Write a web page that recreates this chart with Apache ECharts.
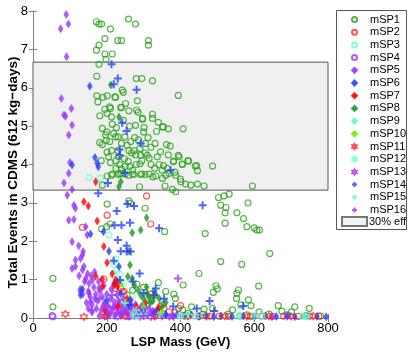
<!DOCTYPE html>
<html>
<head>
<meta charset="utf-8">
<script src="https://cdn.jsdelivr.net/npm/echarts@6/dist/echarts.min.js"></script>
<style>
  html, body { margin: 0; padding: 0; background: #fff; }
  #chart { width: 409px; height: 354px; }
</style>
</head>
<body>
<div id="chart"></div>
<script>
// axis ticks and the 30% efficiency band
const xTicks = [0, 200, 400, 600, 800];
const yTicks = [0, 1, 2, 3, 4, 5, 6, 7, 8];
const bandLow = 3.333;
const bandHigh = 6.667;

// [LSP mass (GeV), total events]
const mSP1 = [
  [172,7.72],[179,7.66],[186,7.66],[210,7.53],[259,7.79],[278,7.66],[195,7.28],[230,7.23],[240,7.23],[313,7.23],
  [313,7.11],[179,7.11],[172,6.98],[195,6.88],[215,6.88],[198,6.74],[179,6.61],
  [173,6.30],[280,6.24],[295,6.24],[324,6.18],[242,5.94],[245,5.88],[394,5.80],[173,5.79],[190,5.75],[201,5.79],
  [224,5.75],[176,5.63],[251,5.59],[240,5.49],[195,5.44],[210,5.46],[281,5.42],[201,5.33],[213,5.24],[181,5.27],
  [324,5.31],[324,5.20],[297,5.20],[351,4.98],[367,4.93],[407,4.93],[278,5.02],[301,4.96],[226,4.96],[335,4.86],
  [188,4.94],[200,4.85],[219,4.81],[224,4.72],[231,4.72],[249,4.72],[197,4.77],[276,4.70],[286,4.64],[199,4.63],
  [208,4.60],[181,4.57],[188,4.52],[331,4.55],[362,4.52],[372,4.48],[213,4.36],[260,4.36],[274,4.36],[230,4.36],
  [201,4.32],[268,4.30],[278,4.25],[304,4.30],[367,4.25],[394,4.24],
  [222,5.76],[283,5.66],[208,5.50],[238,5.48],[260,5.40],[285,5.36],[297,5.18],[340,5.10],[353,4.98],
  [290,4.42],[292,4.24],[310,4.24],[315,4.16],[337,4.20],[346,4.33],[381,4.09],[396,4.20],[420,4.10],[405,4.00],
  [440,3.96],[487,3.96],[446,3.84],[360,3.72],[369,3.77],[387,3.72],[401,3.55],[414,3.49],[428,3.46],[446,3.49],
  [464,3.44],[210,4.05],[235,4.00],[250,3.95],[262,3.95],[280,4.00],[290,4.02],[295,4.10],[342,4.00],[354,3.97],
  [364,3.90],[381,4.07],[405,4.01],[422,4.09],[444,3.97],[215,3.75],[235,3.75],[250,3.75],[270,3.75],[295,3.75],
  [315,3.75],[325,3.68],[385,3.80],[400,3.62],[188,3.46],[201,3.70],[213,3.72],[231,3.74],[240,3.77],[260,3.72],
  [274,3.74],[292,3.74],[304,3.74],[333,3.70],[351,3.64],[358,3.44],[378,3.35],[387,3.29],[289,3.42],
  [215,5.05],[245,5.15],[262,5.00],[240,4.55],[255,4.50],[265,4.60],[232,4.20],[248,4.15],[258,4.08],[225,4.10],
  [320,4.45],[305,4.55],[312,4.70],[300,4.85],[320,4.00],[330,3.90],[350,3.85],[270,3.85],[240,3.88],[225,3.90],
  [205,4.20],[185,4.10],
  [201,2.97],[260,3.05],[265,2.99],[304,2.86],[357,2.25],[186,2.32],[209,2.45],[200,2.38],[54,1.03],[54,0.29],
  [340,0.92],[360,0.69],[595,3.44],[503,3.14],[518,3.18],[532,3.23],[583,3.00],[509,2.94],[523,2.88],[553,2.74],
  [521,2.74],[571,2.59],[521,2.47],[580,2.38],[600,2.35],[607,2.29],[614,2.29],[467,2.20],[642,1.68],[509,1.47],
  [566,1.40],[450,1.16],[407,0.86],[496,0.84],[500,0.76],[489,0.67],[557,0.73],[553,0.64],[612,0.83],[386,0.51],
  [584,0.47],[591,0.32],[430,0.29],[665,0.32],[675,0.18],[710,0.29],[701,0.16],[749,0.25],[613,0.16],[406,0.21],
  [464,0.23],[487,0.25],[541,0.21],[564,0.34],[552,0.51],
  [282,0.88],[300,0.80],[270,0.72],[382,0.62],[320,0.45],[350,0.35],[395,0.25],[420,0.12],[460,0.10],[530,0.10],
  [580,0.08],[640,0.10],[690,0.08],[740,0.06],[780,0.05],[255,0.60],[240,0.40]
];
const mSP2 = [
  [308,3.18],[201,2.68],[134,2.36],[319,2.45],[192,1.01],[238,0.77],[247,0.69],[224,0.77],[242,0.69],[297,0.29],
  [355,0.25],[369,0.16],[265,0.16],[218,0.20],[250,0.35],[318,0.62],[345,0.30],[385,0.15],[400,0.32],[420,0.05],
  [450,0.04],[480,0.05],[505,0.05],[530,0.04],[560,0.05],[590,0.04],[620,0.05],[650,0.04],[680,0.05],[720,0.04],
  [750,0.05],[775,0.05]
];
const mSP3 = [
  [152,3.66],[183,3.64],[206,2.16],[224,1.53],[219,1.40],[228,1.25],[234,1.15],[218,1.14],[245,0.90],[268,0.55],
  [300,0.35],[420,0.05],[560,0.05],[730,0.04]
];
const mSP4 = [[54,0.03],[52,0.06],[200,0.05],[260,0.03]];
const mSP5 = [
  [90,7.91],[75,7.54],[96,7.66],[91,6.81],[77,5.72],[84,5.29],[88,5.26],[104,5.46],[106,5.03],[97,4.77],
  [100,4.05],[97,3.77],[84,3.52],[106,3.35],[93,3.20],[111,2.94],[115,2.86],[97,2.55],[111,2.57],[143,2.38],
  [147,2.16],[106,1.99],[124,1.88],[115,1.51],[129,1.55],[134,1.64],[136,1.73],[106,1.29],[115,1.34],[134,1.25],
  [138,1.34],[143,1.03],[152,0.90],[161,0.99],[129,0.69],[156,0.42],[152,0.64],[179,0.77],
  [128,0.75],[135,0.62],[150,0.70],[155,0.55],[165,0.80],[170,0.62],[175,0.45],[182,0.70],[188,0.55],[195,0.40],
  [200,0.62],[205,0.30],[210,0.50],[215,0.20],[220,0.42],[225,0.30],[230,0.15],[235,0.35],[240,0.22],[245,0.10],
  [250,0.28],[255,0.15],[260,0.05],[265,0.25],[270,0.12],[275,0.05],[280,0.20],[285,0.10],[290,0.03],[300,0.15],
  [310,0.08],[320,0.12],[330,0.05],[340,0.10],[350,0.04],[360,0.08],[370,0.03],[380,0.06],[145,0.40],[160,0.35],
  [172,0.25],[185,0.20],[198,0.15],[208,0.08],[222,0.05],[238,0.06],[160,0.15],[150,0.25],[180,0.05],[195,0.05],
  [140,0.95],[158,1.10],[167,1.20],[148,1.15],[125,1.10],[178,0.95],[192,0.85],[212,0.75],[228,0.60],[245,0.50],
  [262,0.45],[278,0.35],[295,0.30],[315,0.25],[380,0.03],[648,0.03],
  [205,0.12],[218,0.28],[232,0.45],[252,0.18],[268,0.32],[288,0.20],[305,0.28],[325,0.18],[190,0.32],[168,0.50]
];
const mSP6 = [
  [154,6.04],[168,4.18],[174,4.03],[177,3.94],[106,3.99],[191,2.25],[156,2.19],[206,1.74],[233,1.34],[129,0.60],
  [134,0.75],[238,0.64],[265,0.47],[337,0.21],[200,0.45],[220,0.90],[260,0.35],[300,0.20],[330,0.15],[360,0.10],
  [390,0.08],[410,0.05],[430,0.08],[450,0.04],[470,0.06],[490,0.03],[510,0.05],[540,0.04],[570,0.05],[600,0.03],
  [630,0.05],[660,0.04],[690,0.05],[710,0.03],[740,0.05],[770,0.04],[795,0.03]
];
const mSP7 = [
  [170,3.55],[138,3.03],[150,2.92],[174,2.53],[192,1.86],[201,1.44],[224,0.99],[220,0.86],[229,0.82],[188,0.82],
  [170,1.09],[188,1.01],[229,0.95],[215,1.15],[255,0.50],[280,0.30],[305,0.40],[230,0.30],[195,0.20],[340,0.25]
];
const mSP8 = [
  [211,6.07],[233,5.24],[233,3.42],[308,2.61],[292,2.29],[269,2.22],[260,1.74],[263,1.38],[257,1.08],[269,1.03],
  [308,0.80],[328,0.69],[342,0.51],[292,0.60],[300,0.50],[315,0.55],[325,0.45],[333,0.60],[318,0.40],[285,0.72],
  [350,0.30],[360,0.40],[310,0.62],[275,0.85],[238,3.55]
];
const mSP9 = [[270,0.10],[340,0.08],[460,0.05],[560,0.06],[740,0.05]];
const mSP10 = [[240,0.90],[300,0.30],[350,0.15]];
const mSP11 = [
  [88,0.10],[138,0.03],[195,0.05],[250,0.05],[330,0.04],[420,0.05],[470,0.04],[520,0.05],[580,0.04],[640,0.05],
  [700,0.04],[760,0.05]
];
const mSP12 = [[280,0.05],[400,0.05],[440,0.04],[620,0.05],[740,0.04]];
const mSP13 = [[230,0.04],[320,0.03],[690,0.05]];
const mSP14 = [
  [213,6.61],[230,6.24],[219,6.09],[281,5.95],[242,5.09],[254,4.87],[292,4.55],[235,4.39],[235,4.24],[249,3.78],
  [373,3.85],[203,3.52],[177,3.25],[227,2.79],[256,2.97],[274,2.92],[263,2.48],[221,2.42],[240,2.42],[342,2.34],
  [230,2.03],[238,1.74],[254,1.73],[265,1.73],[254,1.88],[219,1.49],[289,1.16],[236,0.99],[460,2.94],[479,0.44],
  [570,0.31],[444,0.25],[491,0.18],[328,0.60],[333,0.77],[260,0.34],[355,0.50],[380,0.30],[300,0.65],[270,0.95]
];
const mSP15 = [[250,0.40],[280,0.20],[300,0.10],[420,0.10],[600,0.05]];
const mSP16 = [[393,1.03],[200,0.30],[240,0.15],[180,0.50],[215,0.60],[160,0.20],[300,0.05]];

const HEX = 'path://M5,0L6.44,2.5L9.33,2.5L7.89,5L9.33,7.5L6.44,7.5L5,10L3.56,7.5L0.67,7.5L2.11,5L0.67,2.5L3.56,2.5Z';
const PLUS = 'path://M0,5L10,5M5,0L5,10';

const groups = [
  ['mSP1', mSP1, 'circle', 6, '#2ca21c', false],
  ['mSP2', mSP2, 'circle', 6, '#ff2a2a', false],
  ['mSP3', mSP3, 'circle', 6, '#66ffcc', false],
  ['mSP4', mSP4, 'circle', 6, '#9933ff', false],
  ['mSP5', mSP5, 'diamond', [5, 8], '#9933ff', true],
  ['mSP6', mSP6, 'diamond', [5, 8], '#2040ff', true],
  ['mSP7', mSP7, 'diamond', [5, 8], '#ff0000', true],
  ['mSP8', mSP8, 'diamond', [5, 8], '#1c961c', true],
  ['mSP9', mSP9, 'diamond', [5, 8], '#55ffcc', true],
  ['mSP10', mSP10, 'diamond', [5, 8], '#66ee11', true],
  ['mSP11', mSP11, HEX, 7, '#ff2020', false],
  ['mSP12', mSP12, HEX, 7, '#66ffcc', false],
  ['mSP13', mSP13, HEX, 7, '#9933ff', false],
  ['mSP14', mSP14, PLUS, 8, '#2040ff', false],
  ['mSP15', mSP15, PLUS, 8, '#55ffbb', false],
  ['mSP16', mSP16, PLUS, 8, '#9933ff', false]
];

const font = 'Liberation Sans, Arial, sans-serif';
const frame = '#808080';

const series = [{
  name: '30% eff',
  type: 'scatter',
  data: [],
  z: 1,
  itemStyle: { color: '#f0f0f0', borderColor: '#555', borderWidth: 1 },
  markArea: {
    silent: true,
    itemStyle: { color: '#f0f0f0', borderColor: '#555', borderWidth: 1 },
    data: [[{ xAxis: xTicks[0], yAxis: bandLow }, { xAxis: xTicks[xTicks.length - 1], yAxis: bandHigh }]]
  }
}];

groups.forEach(([name, data, symbol, size, color, filled]) => {
  series.push({
    name: name,
    type: 'scatter',
    data: data,
    symbol: symbol,
    symbolSize: size,
    z: 2,
    itemStyle: filled
      ? { color: color, borderColor: color, borderWidth: 0.5 }
      : { color: 'rgba(0,0,0,0)', borderColor: color, borderWidth: symbol === PLUS ? 2 : 1.2 }
  });
});

const axisCommon = {
  min: 0,
  axisLine: { show: true, lineStyle: { color: frame, width: 1 } },
  axisTick: { show: true, inside: true, length: 4, lineStyle: { color: frame } },
  splitLine: { show: false }
};

const chart = echarts.init(document.getElementById('chart'));
chart.setOption({
  animation: false,
  backgroundColor: '#fff',
  textStyle: { fontFamily: font },
  grid: { left: 33, right: 81, top: 11, bottom: 36, outerBoundsMode: 'none', containLabel: false },
  xAxis: [
    Object.assign({}, axisCommon, {
      type: 'value', max: 800, interval: 200,
      name: 'LSP Mass (GeV)', nameLocation: 'middle', nameGap: 18, nameMoveOverlap: false,
      nameTextStyle: { color: '#000', fontSize: 13, fontWeight: 'bold', fontFamily: font },
      axisLabel: { color: '#000', fontSize: 13, margin: 4, fontFamily: font }
    }),
    Object.assign({}, axisCommon, {
      type: 'value', max: 800, interval: 200, position: 'top',
      axisLabel: { show: false }
    })
  ],
  yAxis: [
    Object.assign({}, axisCommon, {
      type: 'value', max: 8, interval: 1,
      name: 'Total Events in CDMS (612 kg\u2212days)', nameLocation: 'middle', nameGap: 13, nameMoveOverlap: false,
      nameTextStyle: { color: '#000', fontSize: 13.5, fontWeight: 'bold', fontFamily: font, padding: [0, 16, 0, 0] },
      axisLabel: { color: '#000', fontSize: 13, margin: 5, fontFamily: font }
    }),
    Object.assign({}, axisCommon, {
      type: 'value', max: 8, interval: 1, position: 'right',
      axisLabel: { show: false }
    })
  ],
  graphic: [{
    type: 'rect', z: 3,
    shape: { x: 336.5, y: 10.5, width: 70, height: 219 },
    style: { fill: '#fff', stroke: '#555', lineWidth: 1 }
  }],
  legend: [{
    orient: 'vertical',
    left: 351, top: 14, padding: 0,
    itemWidth: 5, itemHeight: 5, itemGap: 1.7,
    selectedMode: false,
    textStyle: { color: '#000', fontSize: 11, lineHeight: 11, fontFamily: font, padding: [0, 0, 0, 8] },
    data: groups.map(g => g[0])
  }, {
    orient: 'vertical',
    left: 341, top: 216, padding: 0,
    itemWidth: 25, itemHeight: 9,
    symbolKeepAspect: false,
    selectedMode: false,
    textStyle: { color: '#000', fontSize: 11, lineHeight: 11, fontFamily: font, padding: [0, 0, 0, -3] },
    data: [{ name: '30% eff', icon: 'rect' }]
  }],
  series: series
});
</script>
</body>
</html>
